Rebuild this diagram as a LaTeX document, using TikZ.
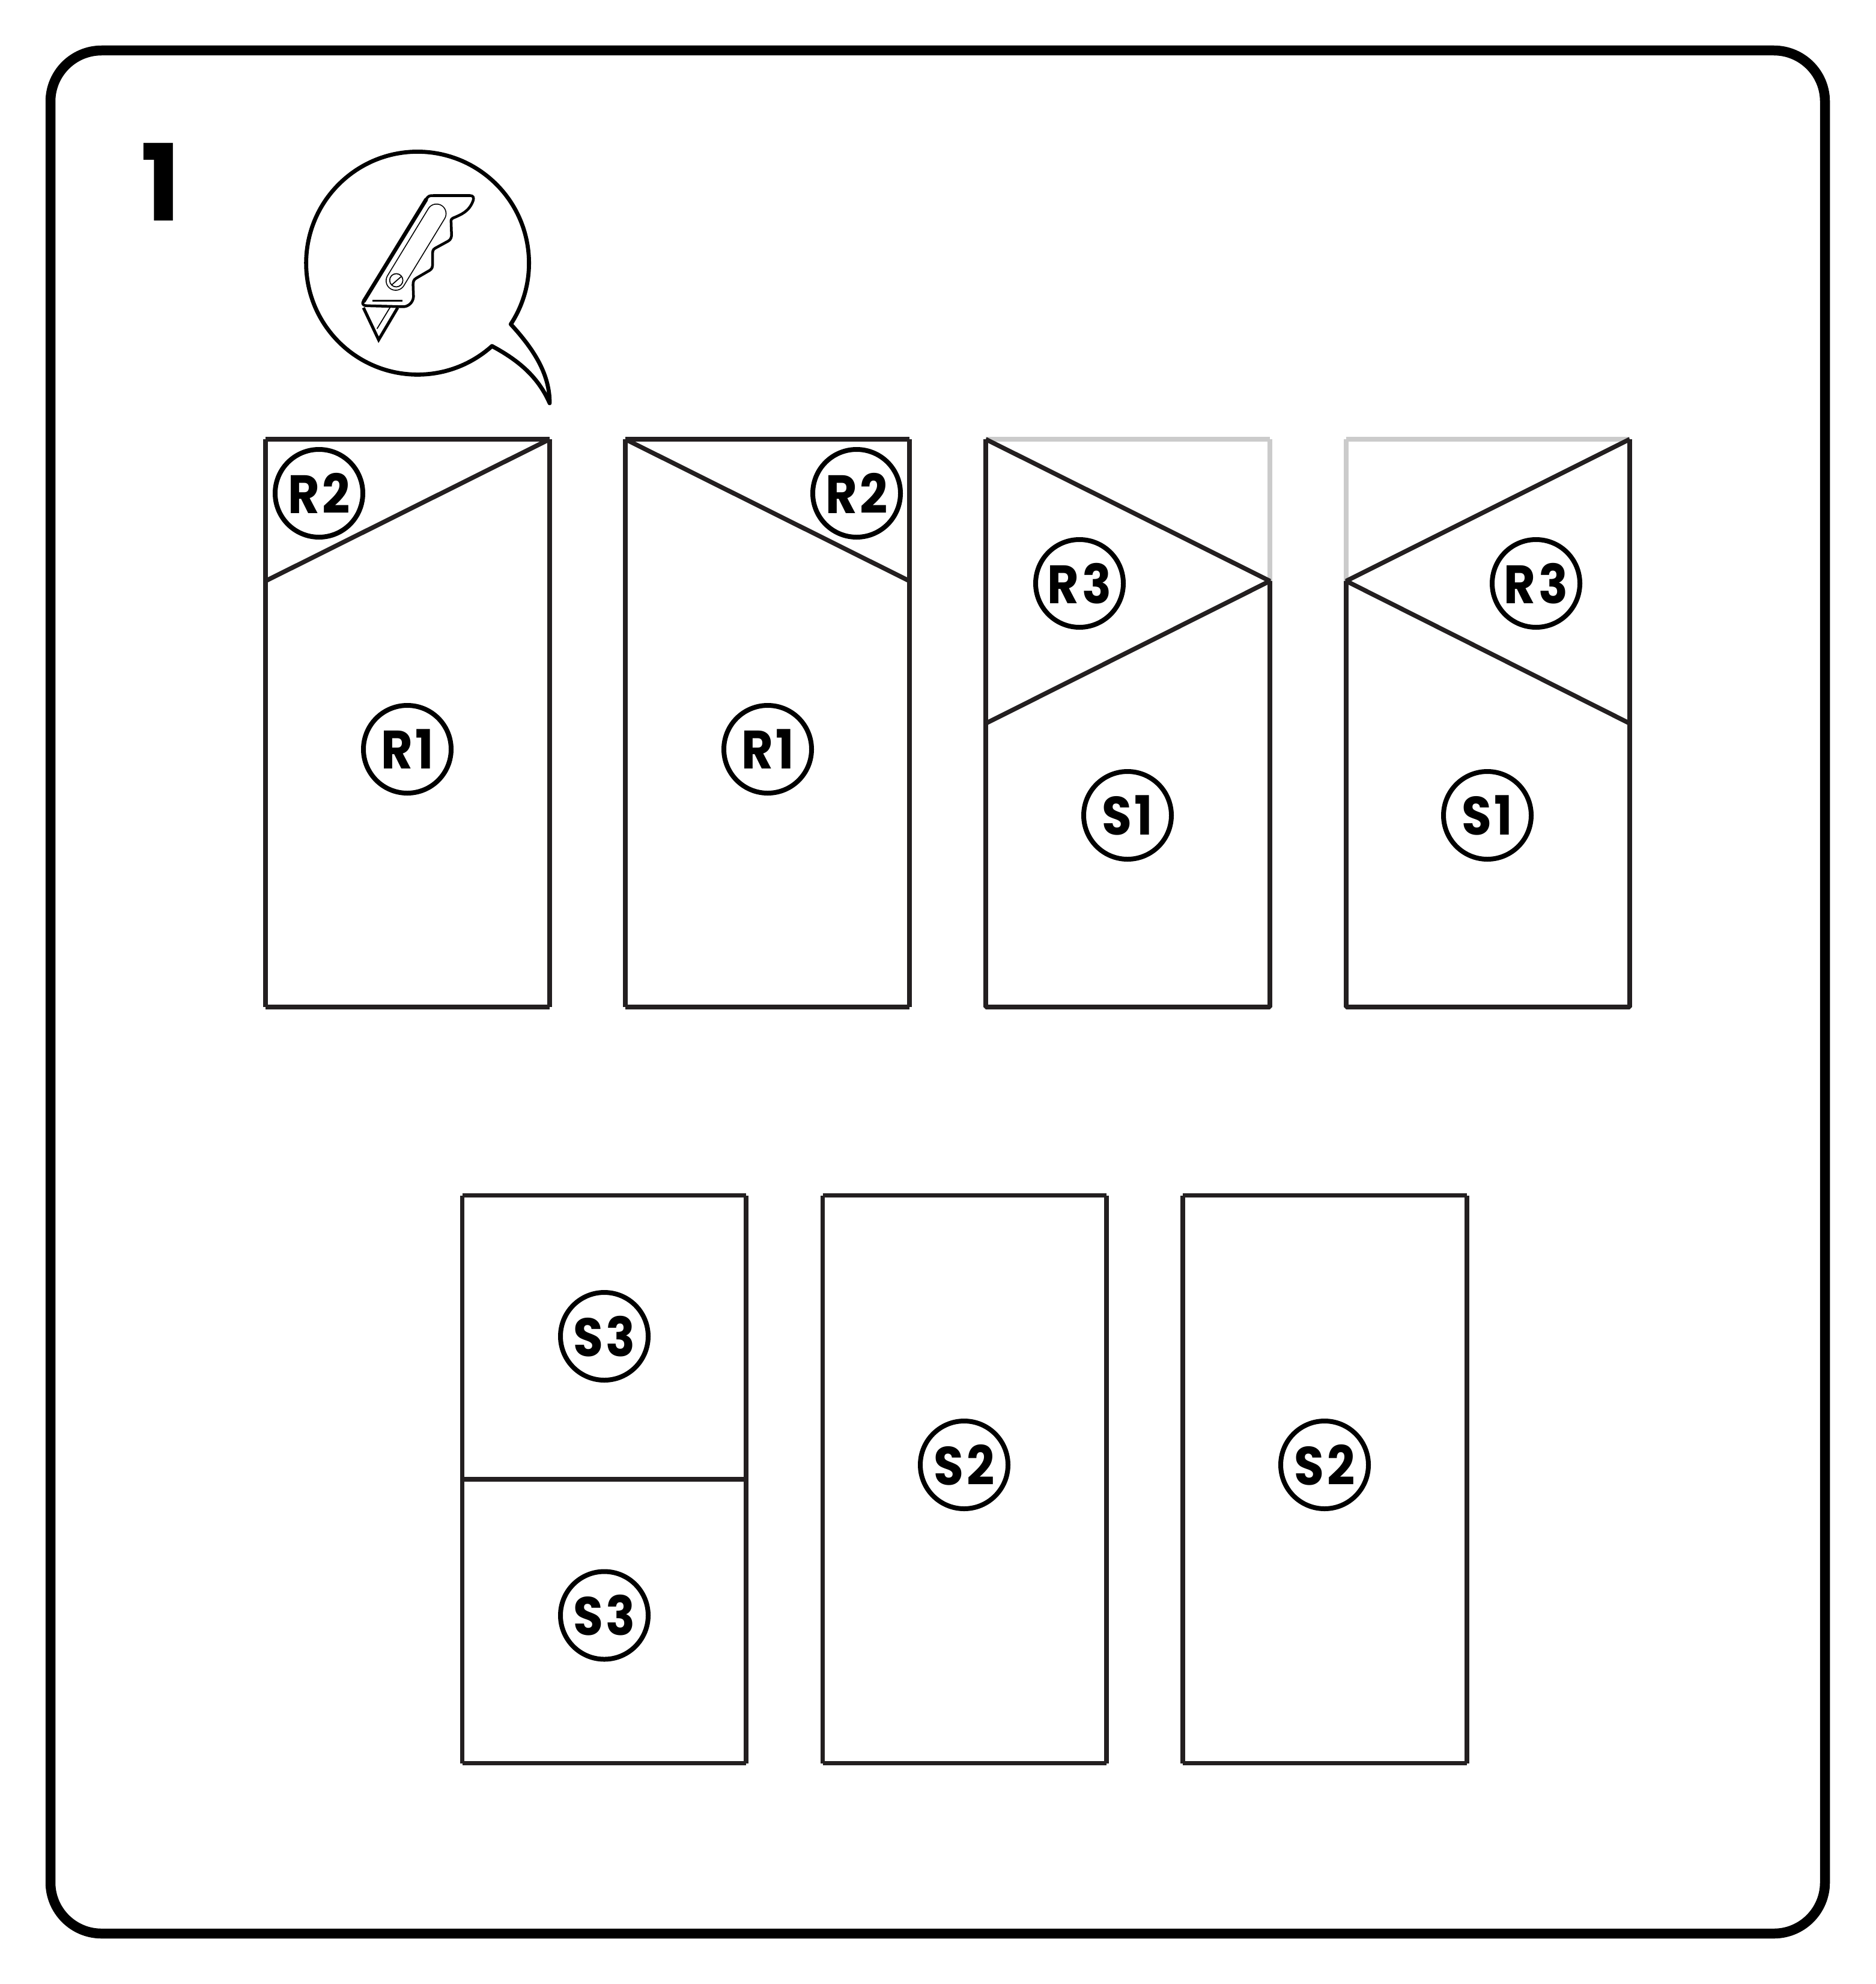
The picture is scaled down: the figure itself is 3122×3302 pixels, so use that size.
\documentclass[tikz,border=0pt]{standalone}
\usepackage{fontspec}
\setmainfont{Poppins}[BoldFont=Poppins Bold,BoldFeatures={FakeStretch=0.9,LetterSpace=5}]
\newfontfamily\numfont{Poppins Bold}
\definecolor{ink}{HTML}{231F20}
\definecolor{paleink}{HTML}{CBCBCB}
\tikzset{
  frameline/.style={line width=16.5pt,rounded corners=85pt},
  part/.style={line width=7.5pt,color=ink,line cap=butt,line join=bevel},
  faint/.style={line width=7.5pt,color=paleink,line cap=butt},
  tag/.style={circle,draw=black,line width=8pt,minimum size=146pt,inner sep=0pt,
    font=\fontsize{90}{90}\selectfont\bfseries},
  knifeout/.style={line width=4.5pt,line join=round,line cap=round},
  knifethin/.style={line width=1.7pt},
}
\newcommand{\panelbox}[4]{% left,top,right,bottom
  \draw[part] (#1,#2) -- (#3,#2);
  \draw[part] (#1,#4) -- (#3,#4);
  \draw[part] (#1,#2) -- (#1,#4);
  \draw[part] (#3,#2) -- (#3,#4);
}
\begin{document}
\begin{tikzpicture}[x=1pt,y=-1pt]
\useasboundingbox (0,0) rectangle (3122,3302);
\fill[white] (0,0) rectangle (3122,3302);
\draw[frameline] (84,84) rectangle (3038,3218);
\node[font=\fontsize{177}{177}\numfont,anchor=center,inner sep=0pt] (num) at (268,303) {1};

% speech bubble
\draw[line width=6.8pt,line join=round,line cap=round]
  (850.3,539.6) .. controls (892,585) and (915,625) .. (915,671)
  .. controls (895,625) and (860,598) .. (819,576)
  arc[start angle=48.1,end angle=393.2,radius=185.5];

% knife
\begin{scope}[shift={(561pt,-290.5pt)},x=0.33333pt,y=-0.33333pt]
\draw[knifeout]
  (128,640) -- (445,125) .. controls (455,105) and (465,105) .. (480,105)
  -- (665,105) .. controls (680,105) and (685,115) .. (680,130)
  .. controls (660,185) and (620,200) .. (580,217)
  .. controls (570,222) and (568,228) .. (570,240) -- (572,300)
  .. controls (572,325) and (560,330) .. (545,338) -- (490,368)
  .. controls (478,375) and (477,385) .. (477,395) -- (477,455)
  .. controls (477,470) and (465,478) .. (455,483) -- (395,518)
  .. controls (383,525) and (380,535) .. (380,550) -- (382,610)
  .. controls (380,640) and (355,660) .. (330,660) -- (150,655)
  .. controls (135,655) and (128,650) .. (128,640) -- cycle;
\draw[line width=6.5pt,line cap=round] (134,632) -- (445,125);
\draw[line width=1.7pt,double=white,double distance=30pt,line cap=round] (293,530) -- (497,195);
\draw[knifethin] (296,528) circle[radius=33];
\draw[knifethin] (272,552) -- (320,510);
\draw[line width=2.2pt] (178,630) -- (327,630);
\draw[line width=5pt,line join=miter] (132,665) -- (208,825) -- (303,665);
\draw[knifethin] (270,655) -- (200,770);
\end{scope}

% top row
\panelbox{442}{731}{915}{1676}
\draw[part] (442,967) -- (915,731);
\panelbox{1041}{731}{1514}{1676}
\draw[part] (1041,731) -- (1514,967);

\draw[faint] (1641,731) -- (2114,731);
\draw[faint] (2114,731) -- (2114,967);
\draw[part] (1641,731) -- (1641,1676) -- (2114,1676) -- (2114,967);
\draw[part] (1641,731) -- (2114,967) -- (1641,1204);

\draw[faint] (2241,731) -- (2713,731);
\draw[faint] (2241,731) -- (2241,967);
\draw[part] (2713,731) -- (2713,1676) -- (2241,1676) -- (2241,967);
\draw[part] (2713,731) -- (2241,967) -- (2713,1204);

% bottom row
\panelbox{769.5}{1989.5}{1242}{2934.5}
\draw[part] (769.5,2462) -- (1242,2462);
\panelbox{1369.5}{1989.5}{1842}{2934.5}
\panelbox{1969}{1989.5}{2442}{2934.5}

% part tags
\node[tag] (r2a) at (531,821) {R2};
\node[tag] (r2b) at (1426,821) {R2};
\node[tag] (r1a) at (678,1247) {R1};
\node[tag] (r1b) at (1278,1247) {R1};
\node[tag] (r3a) at (1797,971) {R3};
\node[tag] (r3b) at (2557,971) {R3};
\node[tag] (s1a) at (1877,1357) {S1};
\node[tag] (s1b) at (2476,1357) {S1};
\node[tag] (s3a) at (1006,2224) {S3};
\node[tag] (s3b) at (1006,2688.5) {S3};
\node[tag] (s2a) at (1605,2438) {S2};
\node[tag] (s2b) at (2205,2438) {S2};
\end{tikzpicture}
\end{document}
